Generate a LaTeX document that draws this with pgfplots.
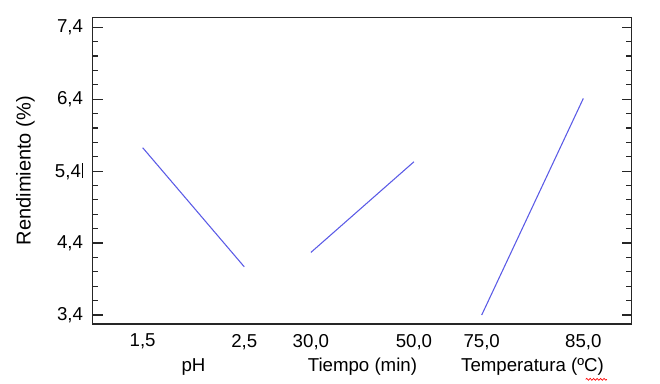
\documentclass[border=0pt]{standalone}
\usepackage{pgfplots}
\pgfplotsset{compat=1.18}
\usepackage{fontspec}
\setmainfont{Liberation Sans}
\usetikzlibrary{decorations.pathmorphing}
\definecolor{linecol}{HTML}{5A5AE6}
\definecolor{framecol}{HTML}{262626}
\begin{document}
\begin{tikzpicture}
\useasboundingbox (-69.5pt,-45pt) rectangle (425.5pt,243pt);
\begin{axis}[
  at={(0,0)}, anchor=south west,
  scale only axis,
  width=404.25pt, height=229.9pt,
  xmin=-0.492, xmax=4.813,
  ymin=3.275, ymax=7.536,
  axis line style={framecol, line width=0.9pt},
  xtick={0,1,1.656,2.670,3.337,4.337},
  xticklabels={{1,5},{2,5},{30,0},{50,0},{75,0},{85,0}},
  xtick style={draw=none},
  xticklabel style={anchor=center, yshift=-13.3pt, inner sep=0pt, font=\fontsize{14}{16}\selectfont},
  ytick={3.4,4.4,5.4,6.4,7.4},
  yticklabels={{3,4},{4,4},{5,4\kern0.6pt\rule[-0.5pt]{1pt}{11.5pt}},{6,4},{7,4}},
  minor y tick num=4,
  ytick pos=both,
  yticklabel pos=left,
  tick align=inside,
  major tick length=7.5pt,
  minor tick length=4.3pt,
  ytick style={framecol, line width=0.9pt},
  minor y tick style={framecol, line width=0.9pt},
  yticklabel style={anchor=east, xshift=-7pt, inner sep=0pt, font=\fontsize{14}{16}\selectfont},
  clip=false,
]
\addplot[linecol, line width=0.8pt] coordinates {(0,5.726) (1,4.07)};
\addplot[linecol, line width=0.8pt] coordinates {(1.656,4.27) (2.670,5.53)};
\addplot[linecol, line width=0.8pt] coordinates {(3.337,3.40) (4.337,6.41)};
\node[font=\fontsize{14}{16}\selectfont, anchor=center] at ([yshift=-32pt]axis cs:0.5,3.275) {pH};
\node[font=\fontsize{14}{16}\selectfont, anchor=center] at ([yshift=-32pt]axis cs:2.163,3.275) {Tiempo (min)};
\node[font=\fontsize{14}{16}\selectfont, anchor=center] at ([yshift=-32pt]axis cs:3.837,3.275) {Temperatura (ºC)};
\draw[red, line width=0.5pt, decorate, decoration={snake, segment length=2.6pt, amplitude=0.7pt}]
  ([yshift=-41.5pt]axis cs:4.36,3.275) -- ([yshift=-41.5pt]axis cs:4.57,3.275);
\node[font=\fontsize{15}{17}\selectfont, rotate=90, anchor=center] at ([xshift=-50.5pt]axis cs:-0.492,5.4055) {Rendimiento (\%)};
\end{axis}
\end{tikzpicture}
\end{document}
